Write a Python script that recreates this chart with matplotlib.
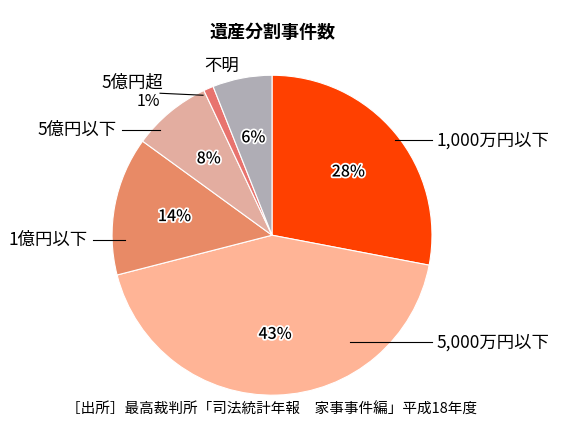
import matplotlib
matplotlib.use("Agg")
import matplotlib.pyplot as plt
import matplotlib.patheffects as pe

plt.rcParams['font.family'] = ['Noto Sans CJK JP', 'DejaVu Sans']

labels = ['1,000万円以下', '5,000万円以下', '1億円以下', '5億円以下', '5億円超', '不明']
values = [28, 43, 14, 8, 1, 6]
colors = ['#FF4000', '#FFB496', '#E88A66', '#E3ADA0', '#E8736E', '#AFADB5']

fig = plt.figure(figsize=(5.8, 4.3), dpi=100)
ax = fig.add_axes([0.193, 0.081, 0.552, 0.744])
wedges, texts, autotexts = ax.pie(values, colors=colors, startangle=90, counterclock=False,
                                  autopct=lambda p: '' if p < 3 else '%d%%' % round(p),
                                  pctdistance=0.62,
                                  wedgeprops=dict(edgecolor='white', linewidth=0.8),
                                  textprops=dict(fontsize=11.5, fontweight='medium'))
for t in autotexts:
    t.set_path_effects([pe.withStroke(linewidth=2.5, foreground='white')])
ax.set_xlim(-1, 1); ax.set_ylim(-1, 1)

def d(px, py):
    return ((px - 272) / 160, (235 - py) / 160)

def lab(text, tx, ty, l0, l1, ha):
    ax.plot(*zip(d(*l0), d(*l1)), color='black', lw=0.8, clip_on=False)
    ax.text(*d(tx, ty), text, ha=ha, va='center', fontsize=12.5)

lab(labels[0], 437, 140, (395, 140), (432, 140), 'left')
lab(labels[1], 437, 342, (350, 342), (432, 342), 'left')
lab(labels[2], 88, 240, (93, 240), (125, 240), 'right')
lab(labels[3], 117, 130, (122, 130), (160, 130), 'right')
ax.plot(*zip(d(160, 93), d(203, 95)), color='black', lw=0.8, clip_on=False)
ax.text(*d(132, 82), '5億円超', ha='center', va='center', fontsize=12.5)
ax.text(*d(148, 101), '1%', ha='center', va='center', fontsize=11.5)
ax.text(*d(222, 66), '不明', ha='center', va='center', fontsize=12.5)

fig.text(272/580, 1 - 32/430, '遺産分割事件数', ha='center', va='center', fontsize=13, fontweight='bold')
fig.text(272/580, 1 - 410/430, '［出所］最高裁判所「司法統計年報　家事事件編」平成18年度',
         ha='center', va='center', fontsize=10.5)
fig.savefig('out.png', dpi=100)
